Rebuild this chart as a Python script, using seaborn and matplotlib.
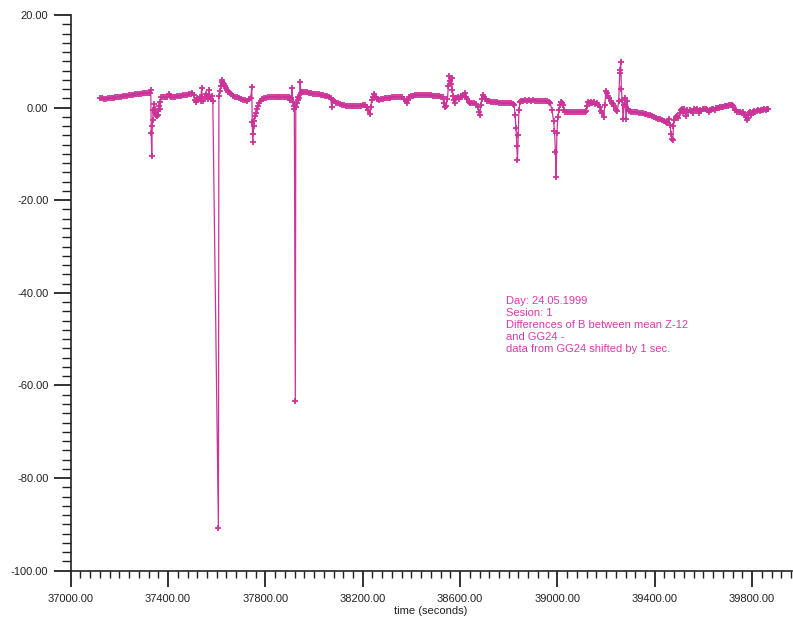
import matplotlib
matplotlib.use("Agg")
import matplotlib.pyplot as plt
from matplotlib.ticker import MultipleLocator, FormatStrFormatter
import seaborn as sns
import pandas as pd

# ---- data ----
time_s = [
    37120, 37128, 37136, 37144, 37152, 37160, 37168, 37176, 37184, 37192,
    37200, 37208, 37216, 37224, 37232, 37240, 37248, 37256, 37264, 37272,
    37280, 37288, 37296, 37304, 37312, 37320, 37326,
    37329, 37331, 37333, 37335, 37337, 37339, 37342, 37345, 37348, 37351,
    37354, 37357, 37360, 37363, 37366, 37369, 37373, 37380, 37388, 37396,
    37402, 37408, 37414, 37422, 37430, 37438, 37446, 37454, 37462, 37470,
    37478, 37486, 37494, 37500, 37505,
    37510, 37515, 37520, 37525, 37530, 37534, 37538, 37541, 37545, 37550,
    37555, 37560, 37565, 37569, 37572, 37576, 37580, 37584,
    37607, 37609, 37613, 37617, 37620, 37623, 37626, 37630, 37634, 37638,
    37642, 37647, 37653, 37660, 37668, 37676, 37684, 37692, 37700, 37708,
    37716, 37724, 37732, 37740, 37744, 37746, 37748, 37750, 37752, 37755,
    37758, 37762, 37766, 37770, 37775, 37780, 37786, 37794, 37802, 37810,
    37818, 37826, 37834, 37842, 37850, 37858, 37866, 37874, 37882, 37890,
    37898, 37903, 37907, 37910, 37913, 37916, 37919, 37923, 37925, 37928,
    37932, 37936, 37940, 37943, 37946, 37950, 37956, 37964, 37972, 37980,
    37988, 37996, 38004, 38012, 38020, 38028, 38036, 38044, 38052, 38060,
    38068, 38073, 38076, 38082, 38090, 38098, 38106, 38114, 38122, 38130,
    38138, 38146, 38154, 38162, 38170, 38178, 38186, 38194, 38202, 38210,
    38216, 38222, 38228, 38232, 38238, 38243, 38248, 38254, 38260, 38266,
    38274, 38282, 38290, 38298, 38306, 38314, 38322, 38330, 38338, 38346,
    38354, 38362, 38370, 38376, 38381, 38386, 38392, 38400, 38408, 38416,
    38424, 38432, 38440, 38448, 38456, 38464, 38472, 38480, 38488, 38496,
    38504, 38512, 38520, 38528, 38533, 38538, 38543, 38548, 38552, 38556,
    38559, 38562, 38565, 38568, 38572, 38576, 38580, 38585, 38590, 38596,
    38602, 38608, 38614, 38619, 38624, 38630, 38636, 38642, 38650, 38658,
    38666, 38672, 38677, 38681, 38685, 38689, 38694, 38700, 38706, 38712,
    38720, 38728, 38736, 38744, 38752, 38760, 38768, 38776, 38784, 38792,
    38800, 38808, 38816, 38822, 38826, 38830, 38833, 38836, 38839, 38842,
    38846, 38852, 38860, 38868, 38876, 38884, 38892, 38900, 38908, 38916,
    38924, 38932, 38940, 38948, 38956, 38964, 38970, 38978, 38984, 38988,
    38992, 38995, 38998, 39002, 39006, 39010, 39015, 39020, 39024, 39028,
    39032, 39040, 39048, 39056, 39064, 39072, 39080, 39088, 39096, 39104,
    39112, 39118, 39122, 39126, 39132, 39138, 39144, 39150, 39156, 39162,
    39168, 39174, 39180, 39185, 39190, 39195, 39199, 39204, 39209, 39214,
    39219, 39224, 39229, 39234, 39240, 39246, 39252, 39256, 39258, 39260,
    39263, 39266, 39270, 39274, 39278, 39282, 39286, 39290, 39295, 39302,
    39310, 39318, 39326, 39334, 39342, 39350, 39358, 39366, 39374, 39382,
    39390, 39398, 39406, 39414, 39422, 39430, 39438, 39446, 39452, 39458,
    39463, 39467, 39471, 39474, 39477, 39481, 39486, 39490, 39496, 39502,
    39508, 39513, 39518, 39522, 39527, 39532, 39538, 39544, 39550, 39556,
    39562, 39568, 39574, 39580, 39586, 39592, 39598, 39604, 39610, 39616,
    39622, 39628, 39634, 39640, 39646, 39652, 39658, 39664, 39670, 39676,
    39682, 39688, 39694, 39700, 39706, 39712, 39718, 39722, 39728, 39734,
    39740, 39746, 39752, 39758, 39764, 39770, 39774, 39778, 39782, 39786,
    39790, 39796, 39802, 39808, 39814, 39820, 39826, 39832, 39838, 39844,
    39850, 39856, 39862, 39867,
]

diff_b = [
    2.1, 2.0, 1.9, 1.9, 2.0, 2.0, 2.1, 2.1, 2.2, 2.3,
    2.3, 2.4, 2.5, 2.5, 2.6, 2.7, 2.7, 2.8, 2.9, 2.9,
    3.0, 3.0, 3.1, 3.1, 3.1, 3.2, 3.1,
    3.9, -5.5, -10.4, -4.0, -2.7, -0.5, 0.8, -0.3, -1.2, -1.6,
    -1.8, -1.5, -0.8, 0.4, -0.2, 1.2, 2.2, 2.4, 2.2, 2.4,
    3.0, 2.6, 2.2, 2.3, 2.4, 2.5, 2.6, 2.6, 2.7, 2.8,
    2.8, 2.9, 3.0, 3.1, 2.8,
    1.6, 1.3, 2.1, 1.7, 2.4, 1.5, 4.2, 2.2, 1.5, 2.3,
    2.9, 2.6, 1.8, 3.7, 2.4, 1.9, 2.6, 1.4,
    -90.8, 2.6, 3.6, 4.6, 5.6, 6.0, 5.4, 5.1, 4.7, 4.2,
    3.8, 3.4, 3.1, 2.9, 2.6, 2.4, 2.3, 2.1, 1.9, 1.7,
    1.6, 1.5, 1.8, 2.0, 4.4, -3.2, -7.4, -5.6, -4.0, -2.8,
    -1.8, -1.2, -0.4, 0.4, 1.0, 1.4, 1.8, 2.0, 2.1, 2.2,
    2.3, 2.3, 2.2, 2.4, 2.4, 2.3, 2.4, 2.3, 2.2, 2.3,
    2.4, 1.7, 2.1, 4.2, 1.2, 0.4, -0.3, -63.4, 0.2, 1.1,
    1.6, 2.4, 2.1, 5.5, 3.1, 3.3, 3.4, 3.3, 3.3, 3.2,
    3.1, 3.0, 3.0, 2.9, 2.9, 2.8, 2.7, 2.6, 2.5, 2.3,
    2.0, 0.1, 1.6, 1.4, 1.1, 0.9, 0.8, 0.6, 0.5, 0.4,
    0.3, 0.3, 0.3, 0.3, 0.3, 0.4, 0.4, 0.4, 0.5, 0.5,
    0.2, -0.6, -1.3, 0.2, 1.6, 2.4, 3.0, 2.4, 1.9, 1.7,
    1.8, 1.9, 2.0, 2.0, 2.1, 2.1, 2.2, 2.2, 2.2, 2.3,
    2.3, 2.3, 1.9, 1.4, 0.9, 1.6, 2.2, 2.5, 2.6, 2.7,
    2.8, 2.8, 2.8, 2.8, 2.7, 2.7, 2.7, 2.7, 2.6, 2.6,
    2.6, 2.5, 2.4, 2.3, 1.0, 0.1, 0.4, 1.8, 4.6, 6.9,
    5.8, 5.2, 6.3, 3.8, 2.6, 1.6, 0.9, 2.0, 2.4, 1.9,
    2.6, 2.2, 2.8, 3.1, 2.4, 1.8, 1.3, 1.1, 1.0, 0.9,
    0.8, 0.2, -0.9, -1.7, 0.6, 1.8, 2.7, 2.3, 1.8, 1.5,
    1.4, 1.3, 1.3, 1.2, 1.2, 1.1, 1.1, 1.0, 1.0, 0.9,
    0.9, 0.9, 0.8, 0.5, -1.5, -4.5, -8.2, -11.4, -6.0, -0.5,
    1.2, 1.5, 1.4, 1.6, 1.5, 1.7, 1.5, 1.6, 1.4, 1.5,
    1.4, 1.5, 1.4, 1.5, 1.4, 1.3, 1.1, -0.6, -2.8, -5.0,
    -9.5, -15.0, -5.5, -2.0, -0.5, 0.5, 1.2, 1.0, 0.6, -0.6,
    -0.9, -1.0, -0.9, -1.0, -0.9, -1.0, -0.9, -0.9, -1.0, -0.9,
    -0.9, -0.8, 0.3, 1.2, 1.0, 1.3, 0.9, 1.2, 0.8, 1.0,
    0.6, 0.2, -0.7, -1.2, -2.0, 0.5, 3.6, 3.2, 2.6, 2.0,
    1.5, 1.0, 0.7, 0.3, -0.5, -0.8, 1.5, 7.4, 8.2, 9.8,
    4.0, 1.6, -2.4, 0.5, 2.0, -2.4, 1.4, -0.2, -0.8, -0.9,
    -0.9, -1.0, -1.0, -1.1, -1.1, -1.2, -1.3, -1.4, -1.5, -1.7,
    -1.9, -2.1, -2.2, -2.4, -2.5, -2.7, -2.9, -3.1, -3.3, -2.5,
    -3.8, -5.6, -6.8, -7.1, -4.0, -2.6, -2.1, -1.8, -2.3, -1.2,
    -0.5, -0.3, -1.1, -0.4, -1.8, -0.6, -0.9, -0.5, -0.7, -1.2,
    -0.4, -0.6, -0.3, -1.2, -0.5, -0.8, -0.3, -0.4, -0.2, -0.6,
    -0.9, -0.5, -0.3, -0.2, -0.5, -0.1, 0.0, -0.1, 0.1, 0.2,
    0.1, 0.3, 0.4, 0.3, 0.5, 0.6, 0.6, 0.4, -0.5, -0.6,
    -0.9, -1.0, -0.9, -1.1, -1.0, -1.6, -2.1, -2.7, -2.2, -1.1,
    -0.9, -1.5, -1.0, -0.8, -0.9, -0.7, -0.6, -0.7, -0.5, -0.6,
    -0.4, -0.5, -0.4, -0.4,
]

annotation_lines = [
    "Day: 24.05.1999",
    "Sesion: 1",
    "Differences of B between mean Z-12",
    "and GG24 -",
    "data from GG24 shifted by 1 sec.",
]
x_label = "time (seconds)"

# ---- styling ----
sns.set_style("ticks")
plt.rcParams["font.family"] = ["Liberation Sans", "DejaVu Sans"]

LINE_COLOR = "#CC3399"
TEXT_COLOR = "#D63AAB"
AXIS_COLOR = "#222222"

df = pd.DataFrame({"time": time_s, "diff": diff_b})

fig = plt.figure(figsize=(7.93, 6.21), dpi=100)
ax = fig.add_axes([70.7 / 793, 1 - 570.7 / 621, (791.5 - 70.7) / 793, (570.7 - 15) / 621])

sns.lineplot(
    data=df, x="time", y="diff", sort=False, estimator=None, ax=ax,
    color=LINE_COLOR, linewidth=0.9, marker="+", markersize=5,
    markeredgewidth=1.3, markeredgecolor=LINE_COLOR,
)

ax.set_xlim(37000, 39962)
ax.set_ylim(-100, 20)

ax.xaxis.set_major_locator(MultipleLocator(400, offset=200))
ax.xaxis.set_minor_locator(MultipleLocator(40))
ax.yaxis.set_major_locator(MultipleLocator(20))
ax.yaxis.set_minor_locator(MultipleLocator(2))
ax.xaxis.set_major_formatter(FormatStrFormatter("%.2f"))
ax.yaxis.set_major_formatter(FormatStrFormatter("%.2f"))

ax.tick_params(axis="both", which="both", left=True, bottom=True, top=False, right=False)
ax.tick_params(axis="y", which="major", direction="out", length=12.5, width=1.3,
               color=AXIS_COLOR, labelsize=8, labelcolor="#222222", pad=3.5)
ax.tick_params(axis="y", which="minor", direction="out", length=6.5, width=1.0,
               color=AXIS_COLOR)
ax.tick_params(axis="x", which="major", direction="out", length=11.5, width=1.3,
               color=AXIS_COLOR, labelsize=8, labelcolor="#222222", pad=5)
ax.tick_params(axis="x", which="minor", direction="out", length=5, width=1.0,
               color=AXIS_COLOR)

for side in ["top", "right"]:
    ax.spines[side].set_visible(False)
for side in ["left", "bottom"]:
    ax.spines[side].set_color(AXIS_COLOR)
    ax.spines[side].set_linewidth(1.2)

ax.set_xlabel(x_label, fontsize=8, color="#222222", labelpad=1.5)
ax.set_ylabel("")

fig.text(506 / 793, 1 - 296 / 621, "\n".join(annotation_lines),
         ha="left", va="top", fontsize=8, color=TEXT_COLOR, linespacing=1.25)

fig.savefig("out.png", dpi=100, facecolor="white")
